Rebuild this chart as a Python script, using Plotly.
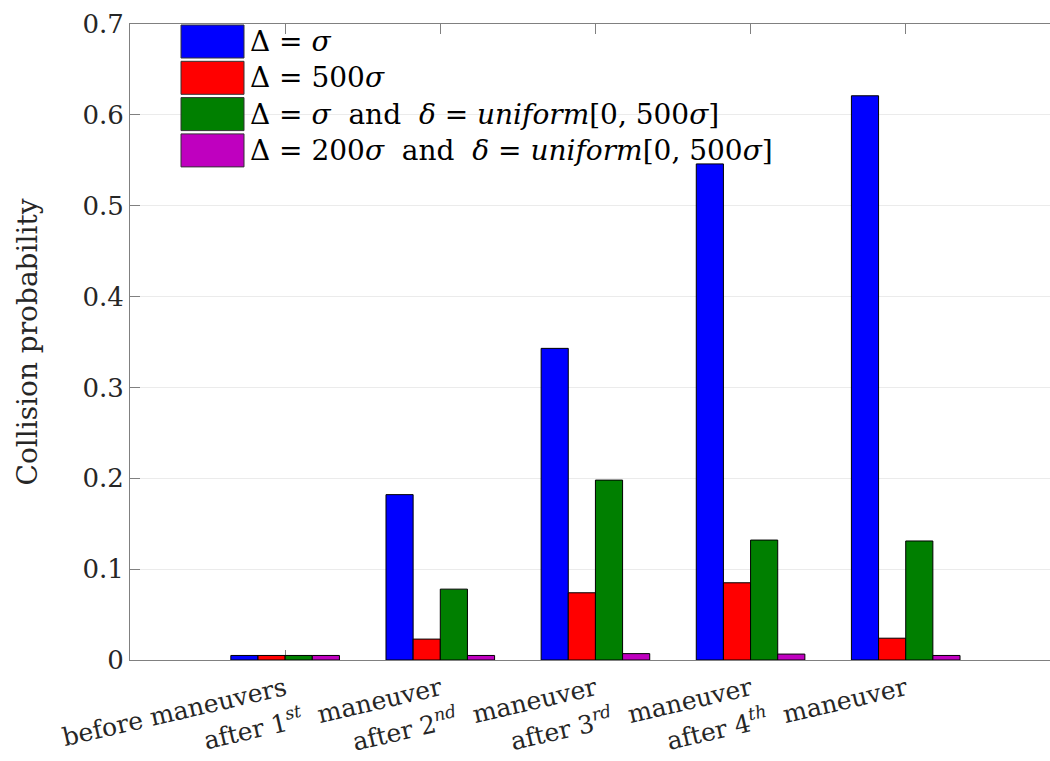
import plotly.graph_objects as go

# Stages along the maneuver sequence
stage_pos = [1, 2, 3, 4, 5]
stage_labels = [
    "before maneuvers",
    "after 1<sup><i>st</i></sup>  maneuver",
    "after 2<sup><i>nd</i></sup>  maneuver",
    "after 3<sup><i>rd</i></sup>  maneuver",
    "after 4<sup><i>th</i></sup>  maneuver",
]

# Collision probability per configuration
p_sigma = [0.005, 0.182, 0.343, 0.546, 0.621]
p_500sigma = [0.005, 0.023, 0.074, 0.085, 0.024]
p_sigma_uniform = [0.005, 0.078, 0.198, 0.132, 0.131]
p_200sigma_uniform = [0.005, 0.005, 0.007, 0.0065, 0.005]

series_names = [
    "Δ = <i>σ</i>",
    "Δ = 500<i>σ</i>",
    "Δ = <i>σ</i>  and  <i>δ</i> = <i>uniform</i>[0, 500<i>σ</i>]",
    "Δ = 200<i>σ</i>  and  <i>δ</i> = <i>uniform</i>[0, 500<i>σ</i>]",
]
series_values = [p_sigma, p_500sigma, p_sigma_uniform, p_200sigma_uniform]
series_colors = ["#0000ff", "#ff0000", "#007f00", "#bf00bf"]

y_ticks = [0, 0.1, 0.2, 0.3, 0.4, 0.5, 0.6, 0.7]
y_ticktext = ["0", "0.1", "0.2", "0.3", "0.4", "0.5", "0.6", "0.7"]

FONT = "'DejaVu Serif', serif"
W, H = 1050, 761
ML, MR, MT, MB = 130, 0, 24, 101

fig = go.Figure()
for name, vals, col in zip(series_names, series_values, series_colors):
    fig.add_trace(go.Bar(
        x=stage_pos, y=vals, name=name,
        marker=dict(color=col, line=dict(color="#000000", width=1)),
        showlegend=False,
    ))

# Legend drawn as large colour patches with labels, stacked from the top-left
plot_w = W - ML - MR
plot_h = H - MT - MB
patch_x0 = (181 - ML) / plot_w
patch_x1 = (244 - ML) / plot_w
text_x = (248 - ML) / plot_w
row_top = 25
row_pitch = 36.3
patch_h = 33
for i, (name, col) in enumerate(zip(series_names, series_colors)):
    top = row_top + i * row_pitch
    y1 = (H - MB - top) / plot_h
    y0 = (H - MB - top - patch_h) / plot_h
    fig.add_shape(type="rect", xref="paper", yref="paper",
                  x0=patch_x0, x1=patch_x1, y0=y0, y1=y1,
                  fillcolor=col, line=dict(color="#333333", width=1), layer="above")
    fig.add_annotation(xref="paper", yref="paper", x=text_x, y=(y0 + y1) / 2,
                       text=name, showarrow=False, xanchor="left", yanchor="middle",
                       font=dict(family=FONT, size=28, color="#000000"))

fig.update_layout(
    width=W, height=H,
    margin=dict(l=ML, r=MR, t=MT, b=MB, autoexpand=False),
    paper_bgcolor="white", plot_bgcolor="white",
    barmode="group", bargap=0.3, bargroupgap=0.0,
    font=dict(family=FONT, size=26, color="#262626"),
)
fig.update_xaxes(
    range=[0, 5.93], automargin=False,
    tickvals=stage_pos, ticktext=stage_labels, tickangle=-13,
    ticks="inside", ticklen=10, tickcolor="#808080",
    showline=True, linecolor="#808080", linewidth=1, mirror="ticks",
    showgrid=False, zeroline=False,
    tickfont=dict(family=FONT, size=25, color="#262626"),
    ticklabelstandoff=4,
    layer="below traces",
)
fig.update_yaxes(
    range=[0, 0.7], automargin=False,
    tickvals=y_ticks, ticktext=y_ticktext,
    ticks="inside", ticklen=10, tickcolor="#808080",
    showline=True, linecolor="#808080", linewidth=1, mirror=False,
    showgrid=True, gridcolor="#ebebeb", gridwidth=1, zeroline=False,
    tickfont=dict(family=FONT, size=26, color="#262626"),
    title=dict(text="Collision probability", font=dict(family=FONT, size=28, color="#262626"), standoff=36),
)

fig.write_html("out.html")
